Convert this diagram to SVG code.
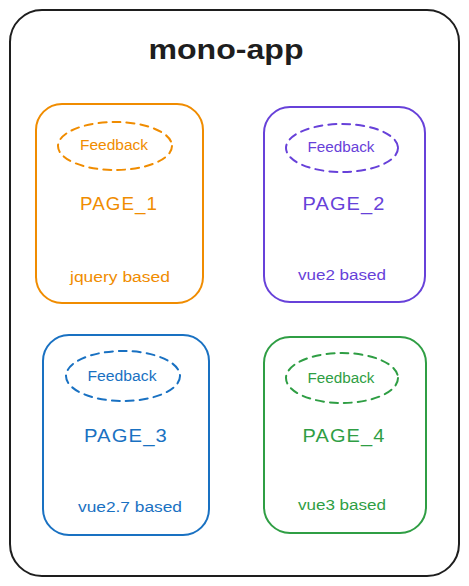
<svg xmlns="http://www.w3.org/2000/svg" width="469" height="586" viewBox="0 0 469 586">
<style>
.box{fill:none;stroke-width:2;stroke-linecap:round}
.ell{fill:none;stroke-width:2;stroke-dasharray:8 6;stroke-linecap:round}
text{font-family:"Liberation Sans","DejaVu Sans",sans-serif;text-anchor:middle}
.fb{font-size:14px}
.pg{font-size:18px;letter-spacing:1px}
.bs{font-size:14px}
.o{stroke:#f08c00;fill:#f08c00}
.p{stroke:#6741d9;fill:#6741d9}
.b{stroke:#1971c2;fill:#1971c2}
.g{stroke:#2f9e44;fill:#2f9e44}
text.o,text.p,text.b,text.g{stroke:none}
</style>
<rect width="469" height="586" fill="#ffffff"/>
<g id="mono-app">
<rect class="box" x="10" y="10" width="449" height="566" rx="32" stroke="#1e1e1e"/>
<text x="226" y="59" font-size="28" font-weight="bold" fill="#1e1e1e" textLength="155" lengthAdjust="spacingAndGlyphs">mono-app</text>
</g>
<g id="page1">
<rect class="box o" style="fill:none" x="36" y="104" width="167" height="199" rx="26"/>
<ellipse class="ell o" style="fill:none" cx="115" cy="146" rx="57" ry="24"/>
<text class="fb o" x="114" y="150" textLength="68" lengthAdjust="spacingAndGlyphs">Feedback</text>
<text class="pg o" x="119" y="210" textLength="78" lengthAdjust="spacingAndGlyphs">PAGE_1</text>
<text class="bs o" x="120" y="282" textLength="100" lengthAdjust="spacingAndGlyphs">jquery based</text>
</g>
<g id="page2">
<rect class="box p" style="fill:none" x="264" y="107" width="161" height="195" rx="26"/>
<ellipse class="ell p" style="fill:none" cx="342" cy="148" rx="56" ry="24"/>
<text class="fb p" x="341" y="152" textLength="67" lengthAdjust="spacingAndGlyphs">Feedback</text>
<text class="pg p" x="344" y="210" textLength="83" lengthAdjust="spacingAndGlyphs">PAGE_2</text>
<text class="bs p" x="342" y="280" textLength="88" lengthAdjust="spacingAndGlyphs">vue2 based</text>
</g>
<g id="page3">
<rect class="box b" style="fill:none" x="43" y="335" width="166" height="200" rx="26"/>
<ellipse class="ell b" style="fill:none" cx="123" cy="376" rx="57" ry="25"/>
<text class="fb b" x="122" y="381" textLength="69" lengthAdjust="spacingAndGlyphs">Feedback</text>
<text class="pg b" x="126" y="442" textLength="84" lengthAdjust="spacingAndGlyphs">PAGE_3</text>
<text class="bs b" x="130" y="512" textLength="104" lengthAdjust="spacingAndGlyphs">vue2.7 based</text>
</g>
<g id="page4">
<rect class="box g" style="fill:none" x="264" y="337" width="162" height="196" rx="26"/>
<ellipse class="ell g" style="fill:none" cx="342" cy="378" rx="56" ry="25"/>
<text class="fb g" x="341" y="383" textLength="67" lengthAdjust="spacingAndGlyphs">Feedback</text>
<text class="pg g" x="344" y="442" textLength="83" lengthAdjust="spacingAndGlyphs">PAGE_4</text>
<text class="bs g" x="342" y="510" textLength="88" lengthAdjust="spacingAndGlyphs">vue3 based</text>
</g>
<g id="connectors"/>
</svg>
